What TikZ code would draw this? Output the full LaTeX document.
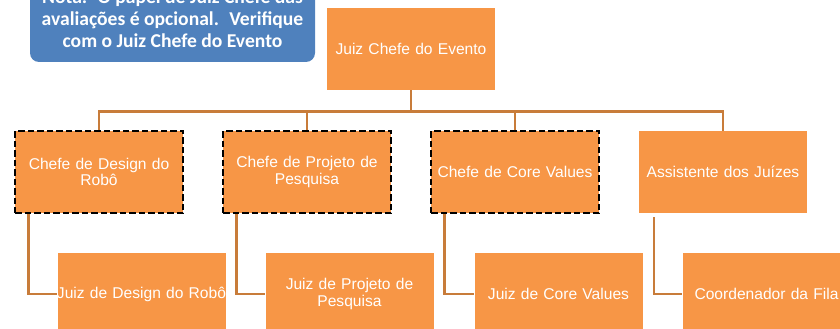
\documentclass[tikz,border=0pt]{standalone}
\usepackage{fontspec}
\setmainfont{Liberation Sans}
\newfontfamily\notefont{Carlito}
\definecolor{caixa}{HTML}{F79646}
\definecolor{linha}{HTML}{C87C3A}
\definecolor{nota}{HTML}{4F81BD}
\newcommand{\dois}[2]{#1\\#2}

\begin{document}
\begin{tikzpicture}[x=1pt,y=-1pt,
    cx/.style={fill=caixa,text=white,minimum width=168pt,minimum height=82pt,
               text width=174pt,inner xsep=-3pt,align=center,
               font=\fontsize{15.6}{16.5}\selectfont},
    opc/.style={cx,draw=black,line width=2.6pt,dash pattern=on 6.5pt off 3pt},
    ln/.style={draw=linha,line width=2.6pt}]
  \useasboundingbox (0,0) rectangle (840,329);
  \clip (0,0) rectangle (840,329);
  \node[fill=nota,rounded corners=9pt,minimum width=285pt,minimum height=86pt,
        text=white,align=center,font=\notefont\bfseries\fontsize{19.6}{22}\selectfont]
        (NOTA) at (172.5,19) {Nota:~ O papel de Juiz Chefe das\\avaliações é opcional.~ Verifique\\com o Juiz Chefe do Evento};
  \node[cx] (JCE) at (411,49) {Juiz Chefe do Evento};
  \node[opc] (DESc) at (99,172)  {\dois{Chefe de Design do}{Robô}};
  \node[opc] (PRJc) at (307,172) {\dois{Chefe de Projeto de}{Pesquisa}};
  \node[opc] (CVc)  at (515,172) {Chefe de Core Values};
  \node[cx]  (AJ)   at (723,172) {Assistente dos Juízes};
  \node[cx] (DESj) at (141.5,294) {Juiz de Design do Robô};
  \node[cx] (PRJj) at (349.5,294) {\dois{Juiz de Projeto de}{Pesquisa}};
  \node[cx] (CVj)  at (558.5,294) {Juiz de Core Values};
  \node[cx] (FILA) at (766.5,294) {Coordenador da Fila};
  \draw[ln] (JCE.south) -- ++(0,21) -| (DESc.north);
  \draw[ln] (JCE.south) -- ++(0,21) -| (PRJc.north);
  \draw[ln] (JCE.south) -- ++(0,21) -| (CVc.north);
  \draw[ln] (JCE.south) -- ++(0,21) -| (AJ.north);
  \draw[ln] ([xshift=15pt]DESc.south west) |- (DESj.west);
  \draw[ln] ([xshift=15pt]PRJc.south west) |- (PRJj.west);
  \draw[ln] ([xshift=15pt]CVc.south west) |- (CVj.west);
  \draw[ln] ([xshift=15pt,yshift=-4pt]AJ.south west) |- (FILA.west);
\end{tikzpicture}
\end{document}
